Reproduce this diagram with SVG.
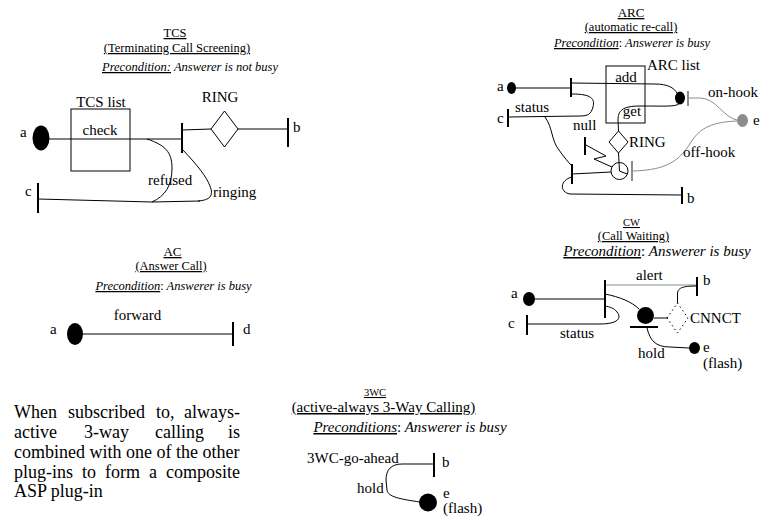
<svg xmlns="http://www.w3.org/2000/svg" width="773" height="521" viewBox="0 0 773 521">
<style>
text{font-family:"Liberation Serif","Times New Roman",serif;fill:#000}
.l{font-size:15px}
.s{font-size:12.5px;text-anchor:middle}
.m{text-anchor:middle}
.i{font-style:italic}
.n{font-style:normal}
.u{text-decoration:underline}
.p{font-size:18px}
.ln{fill:none;stroke:#000;stroke-width:1}
.g{stroke:#8c8c8c}
.bar{stroke:#000;stroke-width:2;fill:none}
.gbar{stroke:#8c8c8c;stroke-width:2;fill:none}
.box{fill:#fff;stroke:#000;stroke-width:1}
.dot{fill:#000}
</style>
<rect width="773" height="521" fill="#fff"/>

<!-- titles -->
<g id="titles">
<text class="s u" x="175" y="37">TCS</text>
<text class="s u" x="177" y="52">(Terminating Call Screening)</text>
<text class="s i" x="190" y="71"><tspan class="u">Precondition:</tspan> Answerer is not busy</text>
<text class="s u" x="631" y="17" style="font-size:13px">ARC</text>
<text class="s u" x="631" y="31">(automatic re-call)</text>
<text class="s i" x="632" y="47"><tspan class="u">Precondition</tspan><tspan class="n">:</tspan> Answerer is busy</text>
<text class="s u" x="172.5" y="256" style="font-size:13px">AC</text>
<text class="s u" x="171" y="270">(Answer Call)</text>
<text class="s i" x="173.5" y="290"><tspan class="u">Precondition</tspan><tspan class="n">:</tspan> Answerer is busy</text>
<text class="s u" x="631.5" y="226" style="font-size:10.5px">CW</text>
<text class="s u" x="633.5" y="240">(Call Waiting)</text>
<text class="s i" x="657" y="256" style="font-size:15px"><tspan class="u">Precondition</tspan><tspan class="n">:</tspan> Answerer is busy</text>
<text class="s u" x="375" y="396" style="font-size:10.5px">3WC</text>
<text class="s u" x="383.5" y="412" style="font-size:15px">(active-always 3-Way Calling)</text>
<text class="s i" x="410" y="432" style="font-size:15px"><tspan class="u">Preconditions</tspan><tspan class="n">:</tspan> Answerer is busy</text>
</g>

<!-- connectors -->
<g id="connectors">
<!-- TCS -->
<path class="ln" d="M49,139 L182,139"/>
<path class="ln" d="M182,130 L211,129 M238,129 L288,129"/>
<path class="ln" d="M147,139 C165,145 172,152 172,168 C172,186 165,196 152,202"/>
<path class="ln" d="M38,199 L152,202 L200,201"/>
<path class="ln" d="M183,150 C198,166 206,176 210,186 C214,196 210,200 198,201"/>
<!-- ARC -->
<path class="ln" d="M516,88 L571,88"/>
<path class="ln" d="M571,83 L655,84 C668,84 674,88 677,93"/>
<path class="ln" d="M680,103 C676,107 668,106 640,106 C622,106 618,111 618,120 L618.5,131"/>
<path class="ln" d="M572,94 C592,94 595,99 593,107 C591,114 588,116 580,116 L508,117"/>
<path class="ln" d="M545,117 C553,128 551,140 559,150 C564,157 568,162 572,166"/>
<path class="ln" d="M572,177 C560,180 559,192 570,194 L682,195"/>
<path class="ln" d="M572,174 L611,172"/>
<path class="ln" d="M586,145 L606,156 L594,159 L612,167"/>
<path class="ln g" d="M689,98 L700,98 C716,98 724,118 737,120"/>
<path class="ln g" d="M737,121 C712,122 700,128 691,142 C680,160 668,170 633,171"/>
<!-- AC -->
<path class="ln" d="M83,334 L233,334"/>
<!-- CW -->
<path class="ln" d="M535,299 L605,299"/>
<path class="ln g" d="M605,285 L697,285"/>
<path class="ln" d="M527,324 L600,324 C618,324 622,318 617,312 C614,308 610,307 605,306"/>
<path class="ln" d="M605,294 C620,297 632,302 639,309"/>
<path class="ln" d="M654,318 L667,318"/>
<path class="ln" d="M677.5,303 L677.5,294 C677.5,288 682,286 697,286"/>
<path class="ln" d="M647,328 C650,340 655,347 670,347 L689,348"/>
<!-- 3WC -->
<path class="ln" d="M402,464 L434,464"/>
<path class="ln" d="M402,464 C391,464 386,470 386,480 L387,490 C388,497 400,499 420,502"/>
</g>

<!-- TCS nodes -->
<g id="tcs-a"><ellipse class="dot" cx="41" cy="138" rx="8.5" ry="12.5"/><text class="l" x="20" y="137">a</text></g>
<g id="tcs-list"><rect x="71" y="109" width="59" height="62" fill="none" stroke="#000"/><text class="l m" x="101" y="107">TCS list</text><text class="l m" x="100" y="135">check</text></g>
<g id="tcs-bar"><line class="bar" x1="182" y1="123" x2="182" y2="153"/></g>
<g id="tcs-ring"><polygon class="box" points="211,129 224.5,111 238,129 224.5,147"/><text class="l m" x="220" y="102">RING</text></g>
<g id="tcs-b"><line class="bar" x1="288" y1="118" x2="288" y2="147"/><text class="l" x="293" y="132">b</text></g>
<g id="tcs-c"><line class="bar" x1="38" y1="183" x2="38" y2="213"/><text class="l" x="25" y="196">c</text></g>
<g id="tcs-labels"><text class="l" x="148" y="185">refused</text><text class="l" x="213" y="197">ringing</text></g>

<!-- ARC nodes -->
<g id="arc-a"><ellipse class="dot" cx="511.5" cy="88" rx="4.5" ry="6"/><text class="l" x="497" y="91">a</text><line class="bar" x1="571" y1="78" x2="571" y2="97"/></g>
<g id="arc-list"><rect x="606" y="66" width="39" height="57" fill="none" stroke="#000"/><text class="l m" x="626" y="82">add</text><text class="l m" x="632" y="116">get</text><text class="l" x="647" y="70">ARC list</text></g>
<g id="arc-c"><line class="bar" x1="508" y1="109" x2="508" y2="127"/><text class="l" x="497" y="123">c</text><text class="l" x="515" y="112">status</text></g>
<g id="arc-null"><line class="bar" x1="585" y1="137" x2="585" y2="155"/><text class="l" x="573" y="130">null</text></g>
<g id="arc-ring"><polygon class="box" points="609,142 618.5,131 628,142 618.5,153"/><text class="l" x="629" y="147">RING</text></g>
<g id="arc-clock"><circle cx="619.5" cy="171" r="8.5" fill="#fff" stroke="#000"/><path class="ln" d="M618.5,153 L619.5,171 L627,174"/></g>
<g id="arc-bar2"><line class="bar" x1="572" y1="164" x2="572" y2="184"/></g>
<g id="arc-hookdot"><ellipse class="dot" cx="680" cy="98" rx="5" ry="6.5"/><line class="gbar" x1="688" y1="91" x2="688" y2="106"/><text class="l" x="708" y="97">on-hook</text></g>
<g id="arc-e"><ellipse cx="742.5" cy="120.5" rx="5.5" ry="6.5" fill="#8c8c8c"/><text class="l" x="753" y="125">e</text></g>
<g id="arc-offhook"><line class="gbar" x1="632" y1="161" x2="632" y2="181"/><text class="l" x="683" y="157">off-hook</text></g>
<g id="arc-b"><line class="bar" x1="682" y1="187" x2="682" y2="204"/><text class="l" x="687" y="203">b</text></g>

<!-- AC nodes -->
<g id="ac-a"><ellipse class="dot" cx="75" cy="334" rx="8" ry="11"/><text class="l" x="50" y="334">a</text></g>
<g id="ac-d"><line class="bar" x1="233" y1="322" x2="233" y2="346"/><text class="l" x="243" y="334">d</text></g>
<g id="ac-label"><text class="l m" x="137.5" y="320">forward</text></g>

<!-- CW nodes -->
<g id="cw-a"><ellipse class="dot" cx="529" cy="299" rx="6" ry="7"/><text class="l" x="511" y="298">a</text></g>
<g id="cw-bar"><line class="bar" x1="605" y1="280" x2="605" y2="318"/><text class="l" x="636" y="280">alert</text></g>
<g id="cw-b"><line class="bar" x1="697" y1="277" x2="697" y2="296"/><text class="l" x="703" y="285">b</text></g>
<g id="cw-c"><line class="bar" x1="527" y1="315" x2="527" y2="335"/><text class="l" x="508" y="328">c</text><text class="l" x="560" y="338">status</text></g>
<g id="cw-dot"><circle class="dot" cx="645.5" cy="315.5" r="8.5"/><line class="bar" x1="630" y1="327" x2="658" y2="327"/></g>
<g id="cw-cnnct"><polygon points="667,318 677.5,303 688,318 677.5,333" fill="none" stroke="#000" stroke-dasharray="1.5,3"/><text class="l" x="690" y="323">CNNCT</text></g>
<g id="cw-e"><ellipse class="dot" cx="694.5" cy="348" rx="5.5" ry="6"/><text class="l" x="703" y="352">e</text><text class="l" x="703" y="368">(flash)</text><text class="l" x="638" y="358">hold</text></g>

<!-- 3WC nodes -->
<g id="w3-b"><line class="bar" x1="434" y1="453" x2="434" y2="477"/><text class="l" x="442" y="467">b</text><text class="l" x="307" y="463">3WC-go-ahead</text></g>
<g id="w3-e"><circle class="dot" cx="428" cy="502.5" r="9"/><text class="l" x="443" y="498">e</text><text class="l" x="443" y="513">(flash)</text><text class="l" x="357" y="493">hold</text></g>

<!-- note -->
<g id="note">
<text class="p" y="418"><tspan x="14">When</tspan><tspan x="68">subscribed</tspan><tspan x="156">to,</tspan><tspan x="240" text-anchor="end">always-</tspan></text>
<text class="p" y="438"><tspan x="14">active</tspan><tspan x="84">3-way</tspan><tspan x="155">calling</tspan><tspan x="240" text-anchor="end">is</tspan></text>
<text class="p" x="14" y="458">combined with one of the other</text>
<text class="p" y="478"><tspan x="14">plug-ins</tspan><tspan x="82">to</tspan><tspan x="105">form</tspan><tspan x="149">a</tspan><tspan x="240" text-anchor="end">composite</tspan></text>
<text class="p" x="14" y="497">ASP plug-in</text>
</g>
</svg>
